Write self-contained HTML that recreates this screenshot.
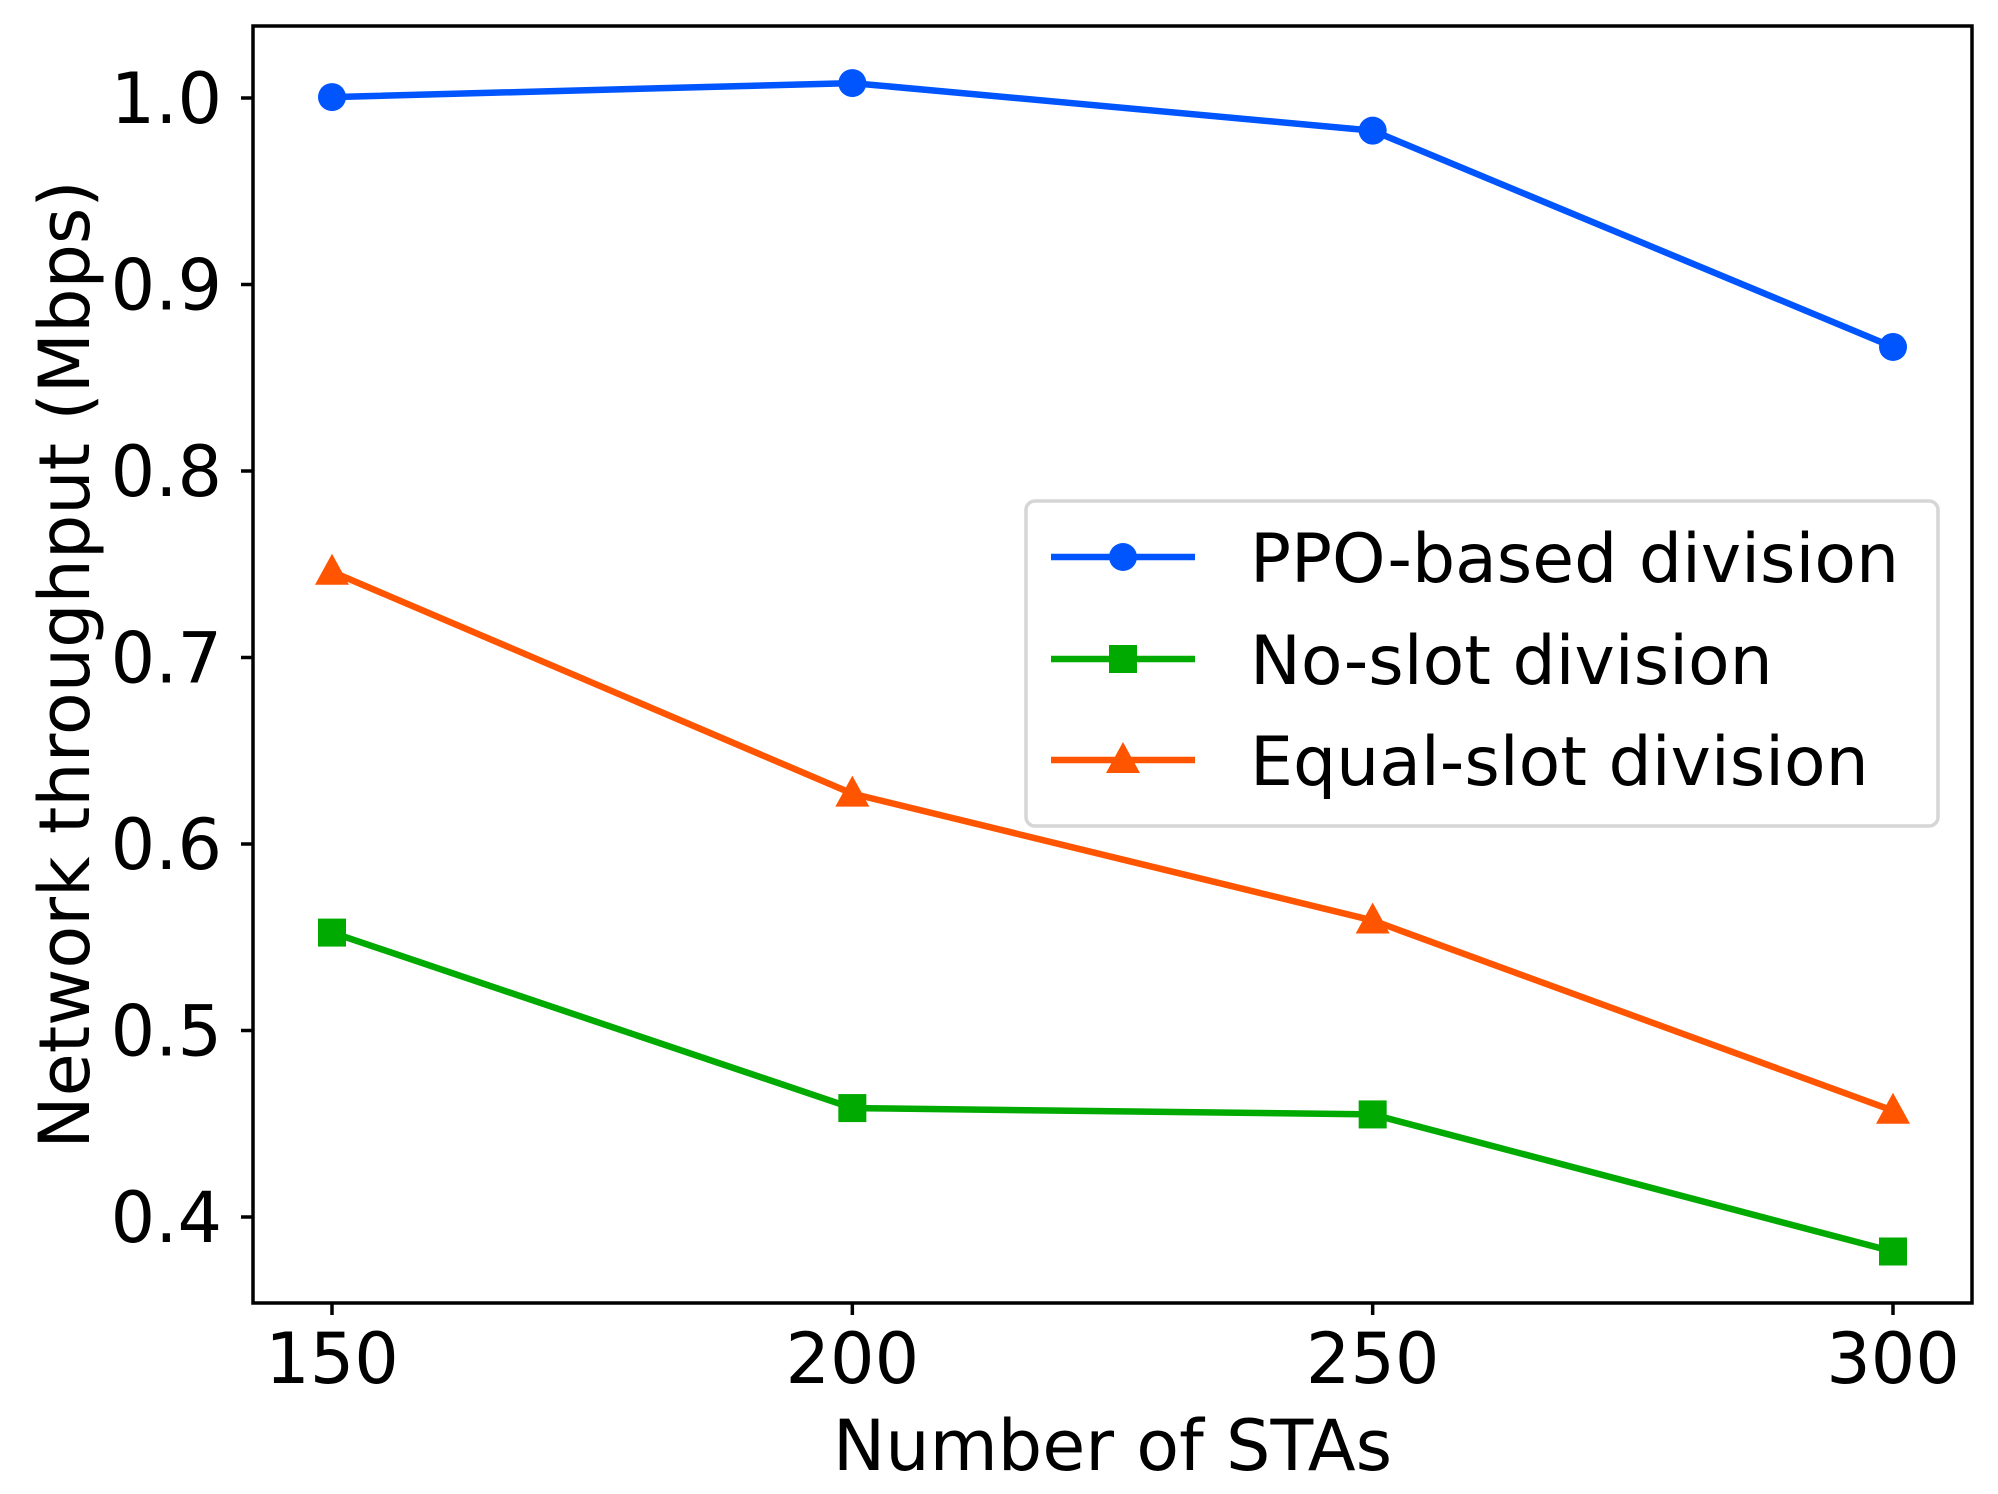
<!DOCTYPE html>
<html><head><meta charset="utf-8"><style>
html,body{margin:0;padding:0;background:#fff;}
svg{display:block;font-family:"DejaVu Sans","Liberation Sans",sans-serif;}
</style></head><body>
<svg id="chart" width="1998" height="1494" viewBox="0 0 1998 1494" xmlns="http://www.w3.org/2000/svg">
<rect x="0" y="0" width="1998" height="1494" fill="#fff"/>
<g id="plot"></g>
</svg>
<script>
const categories = [150, 200, 250, 300];
const ppoValues = [1.0005, 1.008, 0.9825, 0.8665];
const noSlotValues = [0.5525, 0.4584, 0.455, 0.3815];
const equalSlotValues = [0.746, 0.627, 0.559, 0.457];
const xTicks = [150, 200, 250, 300];
const yTicks = [0.4, 0.5, 0.6, 0.7, 0.8, 0.9, 1.0];
const yTickLabels = ["0.4", "0.5", "0.6", "0.7", "0.8", "0.9", "1.0"];
const seriesNames = ["PPO-based division", "No-slot division", "Equal-slot division"];

const NS = "http://www.w3.org/2000/svg";
const g = document.getElementById('plot');
const L = 253, R = 1972, T = 26, B = 1303;
function xs(v){ return 332 + (v - 150) * (1893 - 332) / 150; }
function ys(v){ return 98 + (1.0 - v) * 1865; }
function mk(tag, attrs, parent){
  const e = document.createElementNS(NS, tag);
  for (const k in attrs) e.setAttribute(k, attrs[k]);
  (parent || g).appendChild(e);
  return e;
}

const series = [
  {vals: ppoValues, color: "#0055ff", marker: "circle", key: "ppo"},
  {vals: noSlotValues, color: "#00aa00", marker: "square", key: "no-slot"},
  {vals: equalSlotValues, color: "#ff5500", marker: "triangle", key: "equal-slot"}
];

function marker(type, cx, cy, color, parent){
  let e;
  if (type === "circle") e = mk('circle', {cx: cx, cy: cy, r: 14, fill: color}, parent);
  else if (type === "square") e = mk('rect', {x: cx - 14, y: cy - 14, width: 28, height: 28, fill: color}, parent);
  else e = mk('polygon', {points: `${cx},${cy-18} ${cx+17},${cy+13} ${cx-17},${cy+13}`, fill: color}, parent);
  return e;
}

series.forEach(s => {
  const sg = mk('g', {});
  
  
  const pts = s.vals.map((v, i) => xs(categories[i]) + ',' + ys(v)).join(' ');
  const line = mk('polyline', {points: pts, fill: 'none', stroke: s.color, 'stroke-width': 6.5, 'stroke-linejoin': 'round'}, sg);
  
  
  s.vals.forEach((v, i) => {
    const m = marker(s.marker, xs(categories[i]), ys(v), s.color, sg);
    
    
  });
});

const frame = mk('rect', {x: L, y: T, width: R - L, height: B - T, fill: 'none', stroke: '#000', 'stroke-width': 3.5});



xTicks.forEach(t => {
  const x = xs(t);
  const tk = mk('line', {x1: x, y1: B, x2: x, y2: B + 12, stroke: '#000', 'stroke-width': 3.5});
  
  
  const tx = mk('text', {x: x, y: 1383, 'text-anchor': 'middle', 'font-size': 70, fill: '#000'});
  tx.textContent = String(t);
  
  
});
yTicks.forEach((t, i) => {
  const y = ys(t);
  const tk = mk('line', {x1: L - 12, y1: y, x2: L, y2: y, stroke: '#000', 'stroke-width': 3.5});
  
  
  const tx = mk('text', {x: 222, y: y + 25, 'text-anchor': 'end', 'font-size': 70, fill: '#000'});
  tx.textContent = yTickLabels[i];
  
  
});

const xt = mk('text', {x: (L + R) / 2, y: 1470, 'text-anchor': 'middle', 'font-size': 70, fill: '#000'});
xt.textContent = 'Number of STAs';


const yt = mk('text', {x: 0, y: 0, 'text-anchor': 'middle', 'font-size': 70, fill: '#000', transform: `translate(89,${(T + B) / 2}) rotate(-90)`});
yt.textContent = 'Network throughput (Mbps)';



const lg = mk('g', {});


const box = mk('rect', {x: 1026, y: 501, width: 912, height: 325, rx: 9, fill: '#fff', 'fill-opacity': 0.8, stroke: '#d6d6d6', 'stroke-width': 3.5}, lg);


const rowY = [557, 659, 760];
series.forEach((s, i) => {
  const eg = mk('g', {}, lg);
  
  
  mk('line', {x1: 1051, y1: rowY[i], x2: 1195, y2: rowY[i], stroke: s.color, 'stroke-width': 6.5}, eg);
  marker(s.marker, 1123, rowY[i], s.color, eg);
  const tx = mk('text', {x: 1250, y: rowY[i] + 25, 'font-size': 68, fill: '#000'}, eg);
  tx.textContent = seriesNames[i];
});
</script>
</body></html>
